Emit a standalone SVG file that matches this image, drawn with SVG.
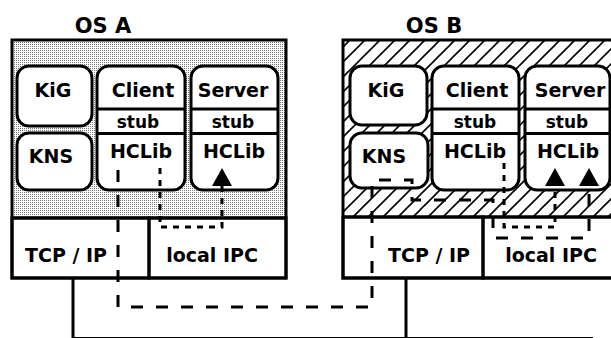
<svg xmlns="http://www.w3.org/2000/svg" width="611" height="338" viewBox="0 0 611 338">
<style>
.t{font-family:"DejaVu Sans","Liberation Sans",sans-serif;font-weight:bold;font-size:19px;fill:#000;text-anchor:middle}
.s{font-size:17px}
.h{font-size:21px}
.box{fill:#fff;stroke:#000;stroke-width:3}
.frame{fill:none;stroke:#000;stroke-width:3}
.div{stroke:#000;stroke-width:3}
.ld{fill:none;stroke:#000;stroke-width:3;stroke-dasharray:12 13}
.sd{fill:none;stroke:#000;stroke-width:3;stroke-dasharray:6 6}
.net{stroke:#000;stroke-width:3}
</style>
<defs>
<pattern id="dots" width="2" height="2" patternUnits="userSpaceOnUse">
<rect width="2" height="2" fill="#fff"/>
<rect width="1" height="1" fill="#777"/>
</pattern>
<pattern id="hatch" width="15" height="15" patternUnits="userSpaceOnUse">
<rect width="15" height="15" fill="#fff"/>
<path d="M-2,2 l4,-4 M0,15 l15,-15 M13,17 l4,-4" stroke="#000" stroke-width="1.6"/>
</pattern>
<marker id="arr" markerUnits="userSpaceOnUse" viewBox="0 0 18 20" markerWidth="18" markerHeight="20" refX="0" refY="10" orient="auto">
<path d="M0,0 L18,10 L0,20 z" fill="#000"/>
</marker>
</defs>
<rect width="611" height="338" fill="#fff"/>

<g id="osA">
<text class="t h" x="103" y="33">OS A</text>
<rect x="12" y="40" width="274" height="178" fill="url(#dots)"/>
<rect class="frame" x="12" y="40" width="274" height="238"/>
<line class="div" x1="12" y1="218" x2="286" y2="218"/>
</g>
<g id="osA-kig">
<rect class="box" x="17" y="66" width="75" height="60" rx="12"/>
<text class="t" x="53" y="97">KiG</text>
</g>
<g id="osA-kns">
<rect class="box" x="17" y="133" width="75" height="57" rx="12"/>
<text class="t" x="51" y="163">KNS</text>
</g>
<g id="osA-client">
<rect class="box" x="97" y="66" width="88" height="124" rx="12"/>
<line class="div" x1="97" y1="109" x2="185" y2="109"/>
<line class="div" x1="97" y1="133.5" x2="185" y2="133.5"/>
<text class="t" x="143" y="97">Client</text>
<text class="t s" x="138" y="128">stub</text>
<text class="t" x="141" y="158">HCLib</text>
</g>
<g id="osA-server">
<rect class="box" x="191" y="66" width="87" height="124" rx="12"/>
<line class="div" x1="191" y1="109" x2="278" y2="109"/>
<line class="div" x1="191" y1="133.5" x2="278" y2="133.5"/>
<text class="t" x="233" y="97">Server</text>
<text class="t s" x="233" y="128">stub</text>
<text class="t" x="234" y="158">HCLib</text>
</g>
<g id="osA-tcpip">
<rect class="frame" x="12" y="218" width="137" height="60"/>
<text class="t" x="66" y="262">TCP / IP</text>
</g>
<g id="osA-localipc">
<rect class="frame" x="149" y="218" width="137" height="60"/>
<text class="t" x="212" y="262">local IPC</text>
</g>

<g id="osB">
<text class="t h" x="434" y="33">OS B</text>
<rect x="343" y="40" width="275" height="177" fill="url(#hatch)"/>
<rect class="frame" x="343" y="40" width="275" height="238"/>
<line class="div" x1="343" y1="217" x2="618" y2="217"/>
</g>
<g id="osB-kig">
<rect class="box" x="350" y="66" width="77" height="59" rx="12"/>
<text class="t" x="386" y="97">KiG</text>
</g>
<g id="osB-kns">
<rect class="box" x="350" y="133" width="78" height="55" rx="12"/>
<text class="t" x="384" y="163">KNS</text>
</g>
<g id="osB-client">
<rect class="box" x="432" y="66" width="87" height="124" rx="12"/>
<line class="div" x1="432" y1="109" x2="519" y2="109"/>
<line class="div" x1="432" y1="133.5" x2="519" y2="133.5"/>
<text class="t" x="477" y="97">Client</text>
<text class="t s" x="475" y="128">stub</text>
<text class="t" x="475" y="158">HCLib</text>
</g>
<g id="osB-server">
<rect class="box" x="525" y="66" width="85" height="124" rx="12"/>
<line class="div" x1="525" y1="109" x2="610" y2="109"/>
<line class="div" x1="525" y1="133.5" x2="610" y2="133.5"/>
<text class="t" x="570" y="97">Server</text>
<text class="t s" x="567" y="128">stub</text>
<text class="t" x="568" y="158">HCLib</text>
</g>
<g id="osB-tcpip">
<rect class="frame" x="343" y="217" width="140" height="61"/>
<text class="t" x="429" y="262">TCP / IP</text>
</g>
<g id="osB-localipc">
<rect class="frame" x="483" y="217" width="135" height="61"/>
<text class="t" x="551" y="262">local IPC</text>
</g>

<g id="connectors">
<line class="net" x1="73" y1="278" x2="73" y2="338"/>
<line class="net" x1="406" y1="278" x2="406" y2="338"/>
<line x1="73" y1="338" x2="593" y2="338" stroke="#000" stroke-width="2"/>
<polyline class="ld" points="118,170 118,307 372,307 372,180 412,180 412,200 493,200 493,238 589,238 589,186" marker-end="url(#arr)"/>
<polyline class="sd" points="160,168 160,227 222,227 222,186" marker-end="url(#arr)"/>
<polyline class="sd" points="504,163 504,227 555,227 555,186" marker-end="url(#arr)"/>
</g>
</svg>
